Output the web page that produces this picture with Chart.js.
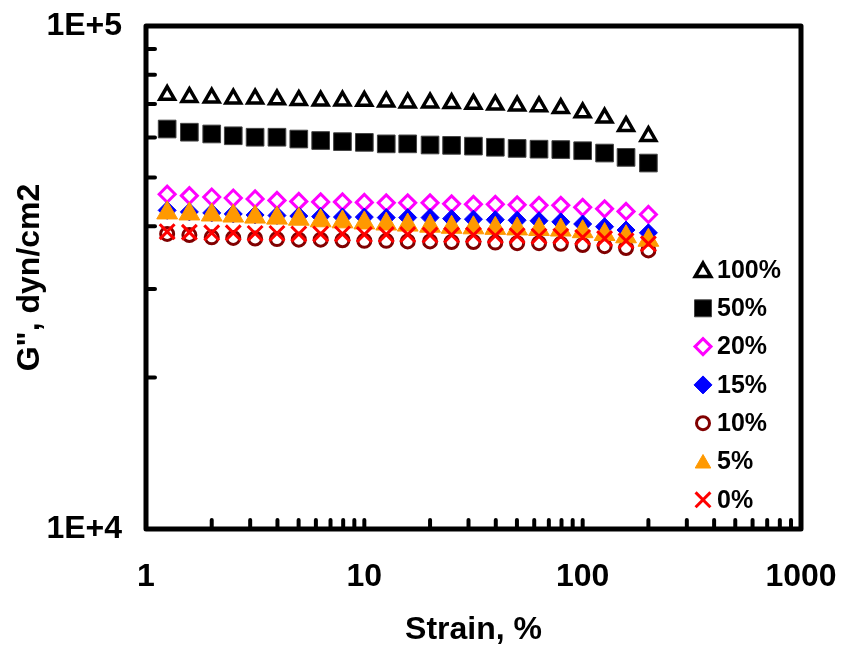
<!DOCTYPE html>
<html>
<head>
<meta charset="utf-8">
<script src="https://cdn.jsdelivr.net/npm/chart.js"></script>
<style>
  html, body { margin: 0; padding: 0; background: #fff; }
  #chart { display: block; }
</style>
</head>
<body>
<canvas id="chart" width="842" height="648"></canvas>
<script>
// strain sweep points (%)
const strain = [1.25, 1.58, 2, 2.51, 3.16, 3.98, 5.01, 6.31, 7.94, 10, 12.6, 15.8, 20, 25.1, 31.6, 39.8, 50.1, 63.1, 79.4, 100, 126, 158, 200];

// G'' values, dyn/cm2, one array per concentration
const g100 = [72900, 72200, 72000, 71700, 71700, 71400, 71200, 71000, 71000, 70900, 70700, 70400, 70400, 70200, 70000, 69700, 69400, 69200, 68600, 67300, 65700, 63200, 60400];
const g50 = [62400, 61500, 61000, 60500, 60100, 60100, 59600, 59200, 58900, 58700, 58300, 58300, 58000, 57900, 57700, 57400, 57100, 56900, 56800, 56500, 55900, 54800, 53400];
const g20 = [46300, 46000, 45700, 45500, 45300, 45000, 44800, 44700, 44700, 44600, 44500, 44500, 44500, 44300, 44200, 44200, 44100, 44000, 44000, 43600, 43300, 42800, 42200];
const g15 = [43000, 42700, 42500, 42300, 42100, 42000, 41900, 41800, 41700, 41700, 41600, 41600, 41600, 41400, 41300, 41200, 41100, 41000, 40800, 40400, 39900, 39300, 38800];
const g10 = [38600, 38400, 38000, 37900, 37800, 37700, 37600, 37600, 37500, 37400, 37400, 37300, 37300, 37200, 37200, 37100, 37000, 37000, 36900, 36700, 36500, 36200, 35800];
const g5 = [42500, 42300, 42100, 41900, 41700, 41500, 41300, 41000, 40800, 40600, 40400, 40200, 40000, 39800, 39700, 39600, 39500, 39400, 39300, 39000, 38500, 38100, 37500];
const g0 = [39000, 38900, 38800, 38800, 38700, 38700, 38600, 38600, 38600, 38500, 38500, 38500, 38400, 38400, 38400, 38300, 38300, 38200, 38200, 38000, 37800, 37400, 36900];

const seriesNames = ["100%", "50%", "20%", "15%", "10%", "5%", "0%"];
const seriesValues = [g100, g50, g20, g15, g10, g5, g0];

// axis labels and minor tick positions
const xLabels = { 1: "1", 10: "10", 100: "100", 1000: "1000" };
const yLabels = { 10000: "1E+4", 100000: "1E+5" };
const xMinorTicks = [2, 3, 4, 5, 6, 7, 8, 9, 10, 20, 30, 40, 50, 60, 70, 80, 90, 100, 200, 300, 400, 500, 600, 700, 800, 900];
const yMinorTicks = [20000, 30000, 40000, 50000, 60000, 70000, 80000, 90000];

const styles = [
  { pointStyle: "triangle", radius: 8.5, bg: "rgba(0,0,0,0)", border: "#000", bw: 3.5 },
  { pointStyle: "rect", radius: 12.5, bg: "#000", border: "#444", bw: 1 },
  { pointStyle: "rectRot", radius: 8, bg: "rgba(0,0,0,0)", border: "#ff00ff", bw: 3 },
  { pointStyle: "rectRot", radius: 9, bg: "#0000ff", border: "#0000ff", bw: 1 },
  { pointStyle: "circle", radius: 6.5, bg: "rgba(0,0,0,0)", border: "#800000", bw: 3 },
  { pointStyle: "triangle", radius: 12, bg: "#ff9900", border: "#ff9900", bw: 1 },
  { pointStyle: "crossRot", radius: 10.5, bg: "#ff0000", border: "#ff0000", bw: 3 }
];

const FONT = "'Liberation Sans', Arial, sans-serif";

const datasets = seriesNames.map((name, i) => ({
  label: name,
  data: strain.map((x, j) => ({ x: x, y: seriesValues[i][j] })),
  showLine: false,
  pointStyle: styles[i].pointStyle,
  pointRadius: styles[i].radius,
  pointHoverRadius: styles[i].radius,
  pointBackgroundColor: styles[i].bg,
  pointBorderColor: styles[i].border,
  pointBorderWidth: styles[i].bw,
  pointHoverBorderWidth: styles[i].bw,
  backgroundColor: styles[i].bg,
  borderColor: styles[i].border,
  order: seriesNames.length - 1 - i
}));

// frame + inward ticks
const framePlugin = {
  id: "frame",
  afterDraw(chart) {
    const ctx = chart.ctx;
    const a = chart.chartArea;
    const xs = chart.scales.x;
    const ys = chart.scales.y;
    ctx.save();
    ctx.strokeStyle = "#000";
    ctx.lineCap = "round";
    ctx.lineWidth = 4;
    xMinorTicks.forEach(v => {
      const px = xs.getPixelForValue(v);
      ctx.beginPath();
      ctx.moveTo(px, a.bottom);
      ctx.lineTo(px, a.bottom - 9);
      ctx.stroke();
    });
    yMinorTicks.forEach(v => {
      const py = ys.getPixelForValue(v);
      ctx.beginPath();
      ctx.moveTo(a.left, py);
      ctx.lineTo(a.left + 9, py);
      ctx.stroke();
    });
    ctx.lineWidth = 5;
    ctx.lineJoin = "round";
    ctx.strokeRect(a.left, a.top, a.right - a.left, a.bottom - a.top);
    ctx.restore();
  }
};

// legend inside the plot, right side
const legendPlugin = {
  id: "innerLegend",
  afterDraw(chart) {
    const ctx = chart.ctx;
    const x0 = 703, y0 = 270, step = 38.3;
    ctx.save();
    ctx.font = "bold 25px " + FONT;
    ctx.textBaseline = "middle";
    ctx.textAlign = "left";
    seriesNames.forEach((name, i) => {
      const s = styles[i];
      const y = y0 + i * step;
      const r = s.pointStyle === "triangle" ? 9 : s.pointStyle === "rect" ? 12 : s.radius;
      ctx.fillStyle = s.bg;
      ctx.strokeStyle = s.border;
      ctx.lineWidth = s.bw;
      Chart.helpers.drawPoint(ctx, { pointStyle: s.pointStyle, radius: r, rotation: 0, borderWidth: s.bw }, x0, y + (s.pointStyle === "triangle" ? 2 : 0));
      ctx.fillStyle = "#000";
      ctx.fillText(name, 717, y + 1);
    });
    ctx.restore();
  }
};

const zeroPadding = scale => {
  scale.paddingLeft = 0;
  scale.paddingRight = 0;
  scale.paddingTop = 0;
  scale.paddingBottom = 0;
};

new Chart(document.getElementById("chart"), {
  type: "scatter",
  data: { datasets: datasets },
  plugins: [framePlugin, legendPlugin],
  options: {
    responsive: false,
    animation: false,
    events: [],
    layout: { padding: { top: 26, right: 41, bottom: 0, left: 0 } },
    plugins: {
      legend: { display: false },
      tooltip: { enabled: false }
    },
    scales: {
      x: {
        type: "logarithmic",
        min: 1,
        max: 1000,
        grid: { display: false, drawTicks: false },
        border: { display: false },
        ticks: {
          autoSkip: false,
          maxRotation: 0,
          padding: 29,
          color: "#000",
          font: { family: FONT, size: 32, weight: "bold" },
          callback: v => xLabels[v] || ""
        },
        title: {
          display: true,
          text: "Strain, %",
          color: "#000",
          font: { family: FONT, size: 32, weight: "bold", lineHeight: 1.1 },
          padding: { top: 0, bottom: 0 }
        },
        afterFit: scale => { scale.height = 119; zeroPadding(scale); }
      },
      y: {
        type: "logarithmic",
        min: 10000,
        max: 100000,
        grid: { display: false, drawTicks: false },
        border: { display: false },
        ticks: {
          autoSkip: false,
          padding: 24,
          color: "#000",
          font: { family: FONT, size: 32, weight: "bold" },
          callback: v => yLabels[v] || ""
        },
        title: {
          display: true,
          text: 'G", dyn/cm2',
          color: "#000",
          font: { family: FONT, size: 32, weight: "bold", lineHeight: 1.1 },
          padding: { top: 13, bottom: 0 }
        },
        afterFit: scale => { scale.width = 146; zeroPadding(scale); }
      }
    }
  }
});
</script>
</body>
</html>
